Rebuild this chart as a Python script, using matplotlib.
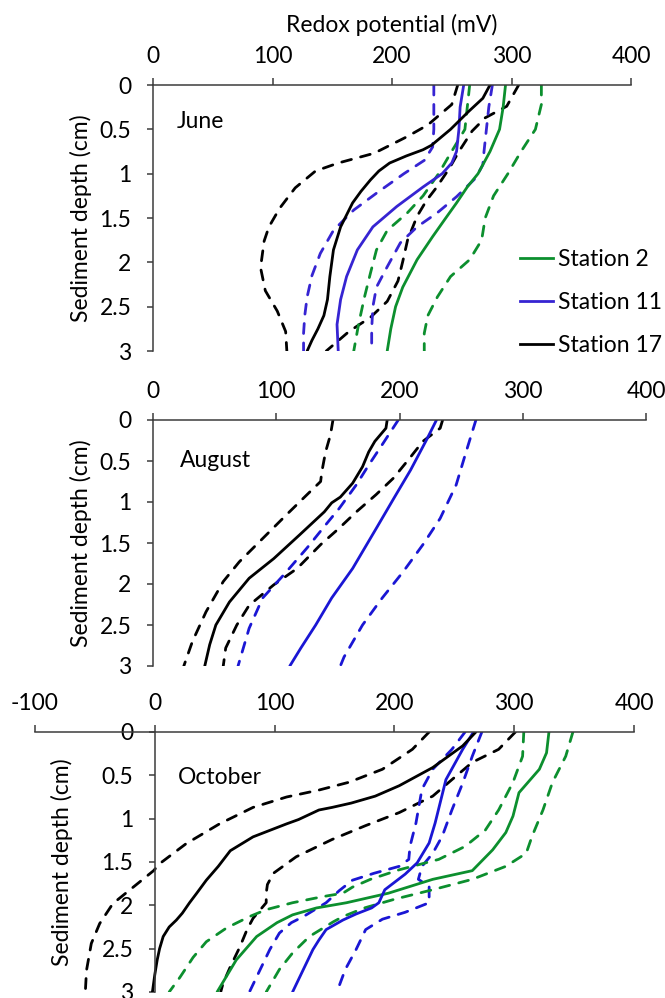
import matplotlib
matplotlib.use("Agg")
import matplotlib.pyplot as plt
from matplotlib.lines import Line2D

plt.rcParams['font.family'] = ['Lato', 'DejaVu Sans']

# ---------------- data: (depth cm, redox mV) ----------------
# June
jun_s2_mean = [(0, 295), (0.25, 293), (0.5, 290), (0.75, 282), (1.0, 272), (1.15, 263), (1.33, 254),
               (1.5, 245), (1.71, 234), (1.97, 221), (2.28, 209), (2.5, 203), (2.75, 199), (3.0, 196)]
jun_s2_hi = [(0, 325), (0.22, 325), (0.5, 320), (0.75, 308), (1.0, 297), (1.25, 285), (1.5, 278),
             (1.75, 275), (1.97, 265), (2.16, 249), (2.39, 238), (2.6, 230), (2.8, 227), (3.0, 227)]
jun_s2_lo = [(0, 265), (0.25, 263), (0.5, 261), (0.77, 249), (1.0, 239), (1.25, 226), (1.44, 213),
             (1.64, 196), (1.86, 187), (2.12, 182), (2.39, 177), (2.7, 172), (3.0, 168)]
jun_s11_mean = [(0, 260), (0.25, 257), (0.5, 256), (0.75, 254), (0.88, 250), (1.0, 242), (1.15, 226),
                (1.37, 204), (1.6, 184), (1.86, 171), (2.16, 162), (2.42, 157), (2.7, 154), (3.0, 155)]
jun_s11_hi = [(0, 284), (0.25, 281), (0.5, 279), (0.75, 277), (0.9, 276), (1.05, 270), (1.26, 254),
              (1.44, 238), (1.6, 221), (1.78, 207), (2.05, 196), (2.28, 187), (2.5, 184), (2.75, 183),
              (3.0, 183)]
jun_s11_lo = [(0, 235), (0.25, 235), (0.5, 235), (0.7, 234), (0.85, 227), (1.0, 210), (1.22, 187),
              (1.41, 168), (1.64, 151), (1.9, 140), (2.15, 133), (2.39, 129), (2.6, 127), (2.8, 126),
              (3.0, 126)]
jun_s17_mean = [(0, 282), (0.15, 276), (0.3, 264), (0.5, 249), (0.68, 233), (0.73, 226), (0.8, 212),
                (0.88, 198), (0.97, 189), (1.07, 182), (1.2, 174), (1.33, 167), (1.6, 157), (1.86, 151),
                (2.16, 148), (2.42, 146), (2.6, 143), (2.75, 138), (2.88, 133), (3.0, 129)]
jun_s17_hi = [(0, 306), (0.24, 296), (0.37, 278), (0.52, 267), (0.75, 256), (0.94, 248), (1.16, 237),
              (1.3, 229), (1.48, 221), (1.75, 213), (1.99, 209), (2.21, 205), (2.44, 196), (2.62, 182),
              (2.78, 164), (3.0, 145)]
jun_s17_lo = [(0, 255), (0.22, 250), (0.45, 230), (0.58, 213), (0.77, 185), (0.88, 155), (0.97, 136),
              (1.16, 119), (1.39, 106), (1.6, 97), (1.76, 93), (2.06, 90), (2.32, 94), (2.55, 104),
              (2.78, 111), (3.0, 112)]

# August
aug_s11_mean = [(0, 230), (0.24, 222), (0.61, 209), (0.94, 196), (1.3, 182), (1.81, 162), (2.17, 145),
                (2.5, 132), (2.78, 120), (3.0, 111)]
aug_s11_hi = [(0, 262), (0.39, 254), (0.79, 246), (1.2, 233), (1.52, 219), (1.85, 203), (2.17, 186),
              (2.5, 170), (2.89, 155), (3.0, 152)]
aug_s11_lo = [(0, 199), (0.3, 186), (0.55, 175), (0.79, 165), (1.08, 151), (1.28, 140), (1.56, 125),
              (1.89, 106), (2.17, 89), (2.54, 78), (3.0, 69)]
aug_s17_mean = [(0, 190), (0.1, 189), (0.26, 180), (0.39, 175), (0.57, 170), (0.77, 162), (0.94, 152),
                (1.01, 145), (1.12, 139), (1.4, 119), (1.69, 98), (1.93, 78), (2.22, 62), (2.5, 51),
                (2.74, 46), (3.0, 42)]
aug_s17_hi = [(0, 235), (0.1, 233), (0.26, 219), (0.47, 208), (0.71, 195), (0.91, 181), (1.12, 165),
              (1.32, 151), (1.52, 136), (1.81, 117), (2.01, 98), (2.26, 78), (2.5, 68), (2.78, 59), (3.0, 57)]
aug_s17_lo = [(0, 146), (0.18, 144), (0.39, 140), (0.63, 137), (0.75, 136), (0.91, 125), (1.16, 108),
              (1.4, 92), (1.73, 70), (1.97, 57), (2.34, 43), (2.7, 32), (3.0, 25)]

# October
oct_s2_mean = [(0, 329), (0.24, 327), (0.43, 321), (0.7, 304), (0.97, 299), (1.16, 293), (1.36, 282),
               (1.6, 265), (1.7, 232), (1.86, 195), (1.97, 160), (2.03, 135), (2.11, 115), (2.2, 102),
               (2.36, 85), (2.63, 68), (3.0, 52)]
oct_s2_hi = [(0, 349), (0.28, 343), (0.58, 332), (0.9, 324), (1.2, 315), (1.4, 310), (1.55, 293),
             (1.7, 265), (1.82, 232), (1.93, 200), (2.03, 175), (2.13, 157), (2.19, 149), (2.36, 129),
             (2.55, 115), (2.74, 104), (3.0, 93)]
oct_s2_lo = [(0, 308), (0.28, 307), (0.58, 299), (0.9, 287), (1.13, 276), (1.32, 259), (1.47, 237),
             (1.59, 204), (1.7, 180), (1.79, 165), (1.86, 157), (1.9, 140), (1.97, 115), (2.05, 93),
             (2.13, 79), (2.26, 60), (2.42, 43), (2.6, 32), (2.83, 21), (3.0, 12)]
oct_s11_mean = [(0, 266), (0.2, 257), (0.55, 243), (1.05, 234), (1.28, 229), (1.51, 219), (1.64, 209),
                (1.82, 192), (1.97, 187), (2.03, 181), (2.1, 168), (2.17, 157), (2.28, 143), (2.4, 137),
                (2.51, 132), (2.74, 124), (3.0, 115)]
oct_s11_hi = [(0, 273), (0.28, 265), (0.59, 257), (0.9, 248), (1.2, 240), (1.4, 232), (1.55, 223),
              (1.7, 220), (1.78, 229), (1.97, 229), (2.08, 209), (2.16, 190), (2.28, 176), (2.51, 168),
              (2.74, 159), (3.0, 152)]
oct_s11_lo = [(0, 259), (0.2, 248), (0.43, 232), (0.66, 223), (1.05, 218), (1.32, 213), (1.47, 212),
              (1.55, 204), (1.63, 183), (1.71, 165), (1.83, 154), (1.97, 143), (2.13, 124), (2.2, 114),
              (2.32, 104), (2.51, 96), (2.74, 88), (3.0, 79)]
oct_s17_mean = [(0, 268), (0.16, 257), (0.41, 232), (0.62, 204), (0.74, 184), (0.82, 164), (0.87, 148),
                (0.9, 137), (1.01, 120), (1.06, 110), (1.21, 82), (1.37, 63), (1.55, 53), (1.71, 43),
                (1.86, 35), (1.97, 29), (2.09, 23), (2.17, 18), (2.25, 12), (2.36, 7), (2.5, 4),
                (2.63, 2), (2.8, 0), (3.0, -2)]
oct_s17_hi = [(0, 301), (0.2, 287), (0.35, 265), (0.55, 248), (0.74, 232), (0.93, 204), (1.08, 176),
              (1.24, 148), (1.44, 118), (1.63, 99), (1.76, 94), (1.86, 93), (1.97, 93), (2.15, 82),
              (2.28, 77), (2.48, 71), (2.71, 63), (2.9, 57), (3.0, 55)]
oct_s17_lo = [(0, 229), (0.2, 215), (0.43, 190), (0.58, 162), (0.67, 137), (0.75, 110), (0.87, 82),
              (1.06, 54), (1.29, 26), (1.52, 4), (1.6, -1), (1.79, -18), (1.98, -35), (2.21, -46),
              (2.44, -53), (2.75, -57), (3.0, -58)]

stations = ["Station 2", "Station 11", "Station 17"]
months = ["June", "August", "October"]
x_ticks_pos = [0, 100, 200, 300, 400]
x_ticks_oct = [-100, 0, 100, 200, 300, 400]
y_ticks = [0, 0.5, 1, 1.5, 2, 2.5, 3]
y_tick_labels = ["0", "0.5", "1", "1.5", "2", "2.5", "3"]

GREEN = '#0C8F2E'
BLUE_JUN = '#3624D2'
BLUE = '#1A16D4'
BLACK = '#000000'
AXC = '#3c3c3c'
FS = 16.5
LW = 2.0

W, H = 665, 998
fig = plt.figure(figsize=(W / 100, H / 100), dpi=100)


def make_axes(l, r, t, b):
    return fig.add_axes([l / W, 1 - b / H, (r - l) / W, (b - t) / H])


def style(ax, xlim, xticks, ylabel_x):
    ax.set_xlim(*xlim)
    ax.set_ylim(3, 0)
    ax.xaxis.tick_top()
    ax.set_xticks(xticks)
    ax.set_xticklabels([str(t) for t in xticks])
    ax.set_yticks(y_ticks)
    ax.set_yticklabels(y_tick_labels)
    for s in ['right', 'bottom']:
        ax.spines[s].set_visible(False)
    for s in ['left', 'top']:
        ax.spines[s].set_color(AXC)
        ax.spines[s].set_linewidth(1.1)
    ax.spines['left'].set_position(('data', 0))
    ax.tick_params(axis='x', direction='out', length=5, width=1.1, color=AXC,
                   labelsize=FS, pad=8, top=True, bottom=False)
    ax.tick_params(axis='y', direction='out', length=4.5, width=1.1, color=AXC,
                   labelsize=FS, pad=11)
    ax.set_ylabel("Sediment depth (cm)", fontsize=FS)
    ax.yaxis.label.set_va('center')
    ax.yaxis.set_label_coords(ylabel_x, 0.5)
    ax.patch.set_alpha(0)


def draw(ax, series, color, dashed):
    d = [p[0] for p in series]
    v = [p[1] for p in series]
    if dashed:
        ax.plot(v, d, color=color, lw=LW, dashes=(3.6, 3.4), dash_capstyle='round')
    else:
        ax.plot(v, d, color=color, lw=LW, solid_capstyle='round', solid_joinstyle='round')


ax1 = make_axes(153, 631, 85, 351)
ax2 = make_axes(153, 646, 420, 666)
ax3 = make_axes(35, 634, 732, 992)

style(ax1, (0, 400), x_ticks_pos, (81 - 153) / 478)
style(ax2, (0, 400), x_ticks_pos, (81 - 153) / 493)
style(ax3, (-100, 400), x_ticks_oct, (62 - 35) / 599)

# June
for s, c in [(jun_s17_lo, BLACK), (jun_s17_hi, BLACK), (jun_s11_lo, BLUE_JUN), (jun_s11_hi, BLUE_JUN),
             (jun_s2_lo, GREEN), (jun_s2_hi, GREEN)]:
    draw(ax1, s, c, True)
for s, c in [(jun_s2_mean, GREEN), (jun_s11_mean, BLUE_JUN), (jun_s17_mean, BLACK)]:
    draw(ax1, s, c, False)
# August
for s, c in [(aug_s17_lo, BLACK), (aug_s17_hi, BLACK), (aug_s11_lo, BLUE), (aug_s11_hi, BLUE)]:
    draw(ax2, s, c, True)
for s, c in [(aug_s11_mean, BLUE), (aug_s17_mean, BLACK)]:
    draw(ax2, s, c, False)
# October
for s, c in [(oct_s17_lo, BLACK), (oct_s17_hi, BLACK), (oct_s11_lo, BLUE), (oct_s11_hi, BLUE),
             (oct_s2_lo, GREEN), (oct_s2_hi, GREEN)]:
    draw(ax3, s, c, True)
for s, c in [(oct_s2_mean, GREEN), (oct_s11_mean, BLUE), (oct_s17_mean, BLACK)]:
    draw(ax3, s, c, False)

ax1.text(20, 0.41, months[0], fontsize=FS, ha='left', va='center')
ax2.text(22, 0.49, months[1], fontsize=FS, ha='left', va='center')
ax3.text(19, 0.52, months[2], fontsize=FS, ha='left', va='center')

fig.text(392 / W, 1 - 25 / H, "Redox potential (mV)", fontsize=FS, ha='center', va='center')

handles = [Line2D([], [], color=GREEN, lw=LW), Line2D([], [], color=BLUE_JUN, lw=LW),
           Line2D([], [], color=BLACK, lw=LW)]
ax1.legend(handles, stations, loc='upper left', bbox_to_anchor=(520 / W, 1 - 249 / H),
           bbox_transform=fig.transFigure, frameon=False, fontsize=FS, borderpad=0,
           borderaxespad=0, handlelength=1.45, handletextpad=0.22, labelspacing=0.95)

fig.savefig("out.png", dpi=100)
